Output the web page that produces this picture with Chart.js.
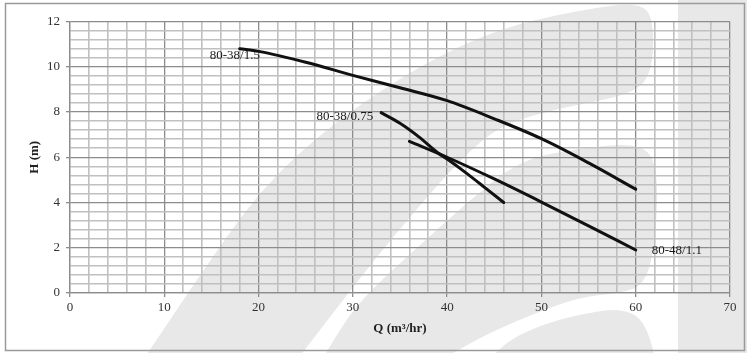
<!DOCTYPE html>
<html>
<head>
<meta charset="utf-8">
<script src="https://cdn.jsdelivr.net/npm/chart.js@4.4.1/dist/chart.umd.min.js"></script>
<style>
  html, body { margin: 0; padding: 0; background: #fff; }
  #wrap { width: 747px; height: 353px; }
</style>
</head>
<body>
<div id="wrap"><canvas id="chart"></canvas></div>
<script>
// pump curves, Q (m3/hr) vs H (m)
const pump15Q = [18, 20, 25, 30, 35, 40, 45, 50, 55, 60];
const pump15H = [10.8, 10.68, 10.2, 9.62, 9.07, 8.5, 7.7, 6.82, 5.75, 4.59];
const pump075Q = [33, 35, 37, 39, 40, 42, 44, 46];
const pump075H = [7.97, 7.5, 6.9, 6.2, 5.92, 5.31, 4.66, 4.0];
const pump11Q = [36, 40, 45, 50, 55, 60];
const pump11H = [6.7, 6.0, 5.04, 4.02, 2.97, 1.9];
const curveNames = ["80-38/1.5", "80-38/0.75", "80-48/1.1"];

const SERIF = "'Liberation Serif', 'Times New Roman', serif";

function toPoints(qs, hs) {
  return qs.map((q, i) => ({ x: q, y: hs[i] }));
}

function isMajor(v, step) {
  return Math.abs(v / step - Math.round(v / step)) < 1e-6;
}

// light grey swooshes behind the plot (watermark)
function smoothShape(ctx, pts) {
  ctx.beginPath();
  const n = pts.length;
  const mid = (a, b) => [(a[0] + b[0]) / 2, (a[1] + b[1]) / 2];
  let m = mid(pts[n - 1], pts[0]);
  ctx.moveTo(m[0], m[1]);
  for (let i = 0; i < n; i++) {
    const p = pts[i];
    const q = mid(p, pts[(i + 1) % n]);
    ctx.quadraticCurveTo(p[0], p[1], q[0], q[1]);
  }
  ctx.closePath();
  ctx.fill();
}

const backdrop = {
  id: "backdrop",
  beforeDraw(chart) {
    const ctx = chart.ctx;
    ctx.save();
    ctx.fillStyle = "#fff";
    ctx.fillRect(0, 0, chart.width, chart.height);
    ctx.fillStyle = "#e8e8e8";
    smoothShape(ctx, [[120, 392], [150, 350], [200, 275], [260, 190], [330, 125], [420, 65], [500, 28], [580, 10],
      [640, 2], [654, 20], [652, 75], [630, 95], [560, 108], [500, 125], [460, 160], [420, 205],
      [370, 265], [320, 330], [272, 392]]);
    smoothShape(ctx, [[305, 392], [330, 345], [360, 300], [420, 245], [470, 200], [520, 160], [580, 148], [640, 143],
      [658, 165], [656, 240], [645, 285], [620, 293], [580, 297], [530, 315], [470, 342], [390, 392]]);
    smoothShape(ctx, [[465, 392], [500, 345], [540, 325], [585, 313], [625, 308], [648, 325], [662, 392]]);
    ctx.fillRect(678, 0, 70, 353);
    ctx.restore();
  },
  afterDraw(chart) {
    const ctx = chart.ctx;
    ctx.save();
    ctx.strokeStyle = "#9a9a9a";
    ctx.lineWidth = 1.5;
    ctx.strokeRect(5.5, 3.5, 739, 347);
    ctx.restore();
  }
};

// curve names placed next to the ends of each line
const curveTags = {
  id: "curveTags",
  beforeDatasetsDraw(chart) {
    const ctx = chart.ctx;
    const xs = chart.scales.x, ys = chart.scales.y;
    const px = (q, h) => [xs.getPixelForValue(q), ys.getPixelForValue(h)];
    ctx.save();
    ctx.font = "13px " + SERIF;
    ctx.fillStyle = "#1a1a1a";
    ctx.textBaseline = "middle";
    let p = px(pump15Q[0], pump15H[0]);
    ctx.textAlign = "left";
    ctx.fillText(curveNames[0], p[0] - 30, p[1] + 7);
    p = px(pump075Q[0], pump075H[0]);
    ctx.textAlign = "right";
    ctx.fillText(curveNames[1], p[0] - 8, p[1] + 4);
    p = px(pump11Q[pump11Q.length - 1], pump11H[pump11H.length - 1]);
    ctx.textAlign = "left";
    ctx.fillText(curveNames[2], p[0] + 16, p[1] + 1);
    ctx.restore();
  }
};

function lineSet(label, qs, hs) {
  return {
    label: label,
    data: toPoints(qs, hs),
    showLine: true,
    borderColor: "#111",
    borderWidth: 3,
    pointRadius: 0,
    fill: false,
    cubicInterpolationMode: "monotone",
    borderCapStyle: "round"
  };
}

const ctx = document.getElementById("chart").getContext("2d");
new Chart(ctx, {
  type: "scatter",
  data: {
    datasets: [
      lineSet(curveNames[0], pump15Q, pump15H),
      lineSet(curveNames[1], pump075Q, pump075H),
      lineSet(curveNames[2], pump11Q, pump11H)
    ]
  },
  options: {
    responsive: true,
    maintainAspectRatio: false,
    animation: false,
    layout: { padding: { left: 23, right: 17, top: 21.5, bottom: 13 } },
    plugins: {
      legend: { display: false },
      tooltip: { enabled: false }
    },
    scales: {
      x: {
        type: "linear",
        min: 0,
        max: 70,
        afterFit(scale) { scale.height = 47; },
        ticks: {
          stepSize: 2,
          autoSkip: false,
          maxRotation: 0,
          padding: 3,
          color: "#333",
          font: { family: SERIF, size: 13 },
          callback: v => isMajor(v, 10) ? v : ""
        },
        grid: {
          color: c => isMajor(c.tick.value, 10) ? "#8c8c8c" : "#c0c0c0",
          lineWidth: c => isMajor(c.tick.value, 10) ? 1.3 : 1.6,
          tickColor: c => isMajor(c.tick.value, 10) ? "#8c8c8c" : "rgba(0,0,0,0)",
          tickLength: 4
        },
        border: { color: "#8c8c8c", width: 1.3 },
        title: {
          display: true,
          text: "Q (m³/hr)",
          color: "#222",
          font: { family: SERIF, size: 13, weight: "bold" }
        }
      },
      y: {
        type: "linear",
        min: 0,
        max: 12,
        afterFit(scale) { scale.width = 47; },
        ticks: {
          stepSize: 0.4,
          autoSkip: false,
          padding: 6,
          color: "#333",
          font: { family: SERIF, size: 13 },
          callback: v => isMajor(v, 2) ? Math.round(v) : ""
        },
        grid: {
          color: c => isMajor(c.tick.value, 2) ? "#8c8c8c" : "#c0c0c0",
          lineWidth: c => isMajor(c.tick.value, 2) ? 1.3 : 1.6,
          tickColor: c => isMajor(c.tick.value, 2) ? "#8c8c8c" : "rgba(0,0,0,0)",
          tickLength: 4
        },
        border: { color: "#8c8c8c", width: 1.3 },
        title: {
          display: true,
          text: "H (m)",
          color: "#222",
          font: { family: SERIF, size: 13, weight: "bold" }
        }
      }
    }
  },
  plugins: [backdrop, curveTags]
});
</script>
</body>
</html>
